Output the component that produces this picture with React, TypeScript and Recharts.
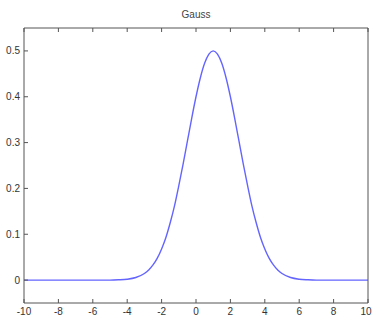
import React from "react";
import { LineChart, Line, XAxis, YAxis } from "recharts";

// x positions and curve values
const xs = [
  -10, -5, -4.5, -4, -3.5, -3, -2.75, -2.5, -2.25, -2, -1.75, -1.5, -1.25, -1,
  -0.75, -0.5, -0.25, 0, 0.25, 0.5, 0.75, 1, 1.25, 1.5, 1.75, 2, 2.25, 2.5,
  2.75, 3, 3.25, 3.5, 3.75, 4, 4.25, 4.5, 4.75, 5, 5.5, 6, 6.5, 7, 10,
];
const ys = [
  0, 0, 0.0006, 0.0019, 0.0056, 0.0143, 0.022, 0.033, 0.048, 0.068, 0.093,
  0.125, 0.162, 0.206, 0.253, 0.303, 0.353, 0.4, 0.441, 0.473, 0.493, 0.5,
  0.493, 0.473, 0.441, 0.4, 0.353, 0.303, 0.253, 0.206, 0.162, 0.125, 0.093,
  0.068, 0.048, 0.033, 0.022, 0.0143, 0.0056, 0.0019, 0.0006, 0, 0,
];
const xTicks = [-10, -8, -6, -4, -2, 0, 2, 4, 6, 8, 10];
const yTicks = [0, 0.1, 0.2, 0.3, 0.4, 0.5];
const title = "Gauss";

const data = xs.map((x, i) => ({ x, y: ys[i] }));

const axisColor = "#555";
const fontFamily = "Liberation Sans, Arial, sans-serif";
const tickFont = { fontSize: 10, fill: "#333", fontFamily };
const blank = () => "";

// bottom tick label; the last one is nudged so it stays inside the window
function XTick(props: any) {
  const { x, y, payload } = props;
  const isLast = payload.value === xTicks[xTicks.length - 1];
  return (
    <text
      x={x + (isLast ? -2 : 0)}
      y={y}
      dy="0.71em"
      textAnchor="middle"
      fontSize={10}
      fill="#333"
      fontFamily={fontFamily}
    >
      {payload.value}
    </text>
  );
}

export default function App() {
  return (
    <div style={{ position: "absolute", left: 0, top: 0, width: 372, height: 320, background: "#fff" }}>
      <div
        style={{
          position: "absolute",
          left: 0,
          width: 392,
          top: 9,
          textAlign: "center",
          fontSize: 10,
          lineHeight: "12px",
          color: "#444",
          fontFamily,
        }}
      >
        {title}
      </div>
      <LineChart width={372} height={320} data={data} margin={{ top: 0, right: 0, bottom: 0, left: 0 }}>
        <XAxis
          dataKey="x"
          type="number"
          domain={[-10, 10]}
          ticks={xTicks}
          interval={0}
          height={17}
          tickSize={-4}
          tickMargin={9}
          stroke={axisColor}
          tick={<XTick />}
        />
        <XAxis
          xAxisId="top"
          orientation="top"
          dataKey="x"
          type="number"
          domain={[-10, 10]}
          ticks={xTicks}
          interval={0}
          height={28}
          tickSize={-4}
          tickFormatter={blank}
          stroke={axisColor}
        />
        <YAxis
          type="number"
          domain={[-0.05, 0.55]}
          ticks={yTicks}
          interval={0}
          width={24}
          tickSize={-4}
          tickMargin={8}
          stroke={axisColor}
          tick={tickFont}
        />
        <YAxis
          yAxisId="right"
          orientation="right"
          type="number"
          domain={[-0.05, 0.55]}
          ticks={yTicks}
          interval={0}
          width={4}
          tickSize={-4}
          tickFormatter={blank}
          stroke={axisColor}
        />
        <Line
          dataKey="y"
          type="monotone"
          stroke="#6464ff"
          strokeWidth={1.4}
          dot={false}
          isAnimationActive={false}
        />
      </LineChart>
    </div>
  );
}
